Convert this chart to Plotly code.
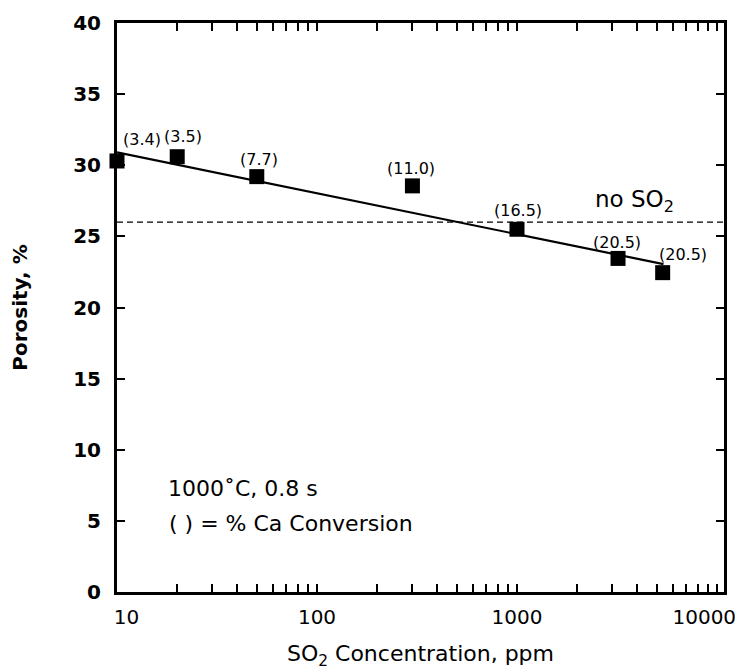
import math
import plotly.graph_objects as go

# ---- data ----
so2_ppm = [10, 20, 50, 300, 1000, 3200, 5350]
porosity = [30.3, 30.6, 29.2, 28.55, 25.5, 23.45, 22.45]
ca_conv = ["(3.4)", "(3.5)", "(7.7)", "(11.0)", "(16.5)", "(20.5)", "(20.5)"]

fit_x = [10, 5400]
fit_y = [30.9, 23.05]

no_so2_level = 26.0

x_tick_vals = [10, 100, 1000, 10000]
x_tick_text = ["\u00a0\u00a0\u00a010", "100", "1000", "10000\u00a0\u00a0\u00a0\u00a0"]
y_tick_vals = [0, 5, 10, 15, 20, 25, 30, 35, 40]

# label offsets in pixels (style)
label_offsets = [(25, 21), (6, 20), (2, 17), (-1, 17), (1, 19), (-1, 16), (20, 18)]

FONT = "DejaVu Sans, Verdana, sans-serif"

fig = go.Figure()

fig.add_trace(go.Scatter(
    x=fit_x, y=fit_y, mode="lines",
    line=dict(color="black", width=2.2), showlegend=False, hoverinfo="skip",
    cliponaxis=False))

fig.add_trace(go.Scatter(
    x=so2_ppm, y=porosity, mode="markers",
    marker=dict(symbol="square", size=15, color="black"),
    showlegend=False, cliponaxis=False))

fig.add_shape(type="line", xref="paper", yref="y", x0=0, x1=1,
              y0=no_so2_level, y1=no_so2_level,
              line=dict(color="black", width=1.4, dash="6px,4px"))

for xv, yv, t, (dx, dy) in zip(so2_ppm, porosity, ca_conv, label_offsets):
    fig.add_annotation(x=math.log10(xv), y=yv, text=t, showarrow=False,
                       xshift=dx, yshift=dy,
                       font=dict(family=FONT, size=16, color="black"))

fig.add_annotation(x=math.log10(2400), y=27.5, text="no SO<sub>2</sub>",
                   showarrow=False, xanchor="left",
                   font=dict(family=FONT, size=23, color="black"))

fig.add_annotation(xref="paper", x=0.081, y=7.3, text="1000˚C, 0.8 s",
                   showarrow=False, xanchor="left",
                   font=dict(family=FONT, size=22, color="black"))
fig.add_annotation(xref="paper", x=0.083, y=4.85, text="( ) = % Ca Conversion",
                   showarrow=False, xanchor="left",
                   font=dict(family=FONT, size=22, color="black"))

fig.update_xaxes(
    type="log", range=[1, 4.035], automargin=False,
    tickvals=x_tick_vals, ticktext=x_tick_text,
    ticks="inside", ticklen=8, tickwidth=2, tickcolor="black",
    minor=dict(ticks="inside", ticklen=8, tickwidth=2, tickcolor="black",
               dtick="D1", showgrid=False),
    showline=True, linewidth=3, linecolor="black", mirror="allticks",
    showgrid=False, zeroline=False, ticklabelstandoff=5,
    ticklabeloverflow="allow",
    tickfont=dict(family=FONT, size=20, color="black"),
    title=dict(text="SO<sub>2</sub> Concentration, ppm",
               font=dict(family=FONT, size=22, color="black"), standoff=18),
)
fig.update_yaxes(
    range=[0, 40], tickvals=y_tick_vals, automargin=False,
    ticks="inside", ticklen=8, tickwidth=2, tickcolor="black",
    showline=True, linewidth=3, linecolor="black", mirror="allticks",
    showgrid=False, zeroline=False, ticklabelstandoff=9,
    tickfont=dict(family=FONT, size=20, color="black", weight="bold"),
    title=dict(text="<b>Porosity, %</b>",
               font=dict(family=FONT, size=20, color="black"), standoff=42),
)

fig.update_layout(
    width=735, height=662,
    margin=dict(l=109, r=19, t=15, b=78),
    paper_bgcolor="white", plot_bgcolor="white",
    showlegend=False,
)

fig.write_html("out.html")
